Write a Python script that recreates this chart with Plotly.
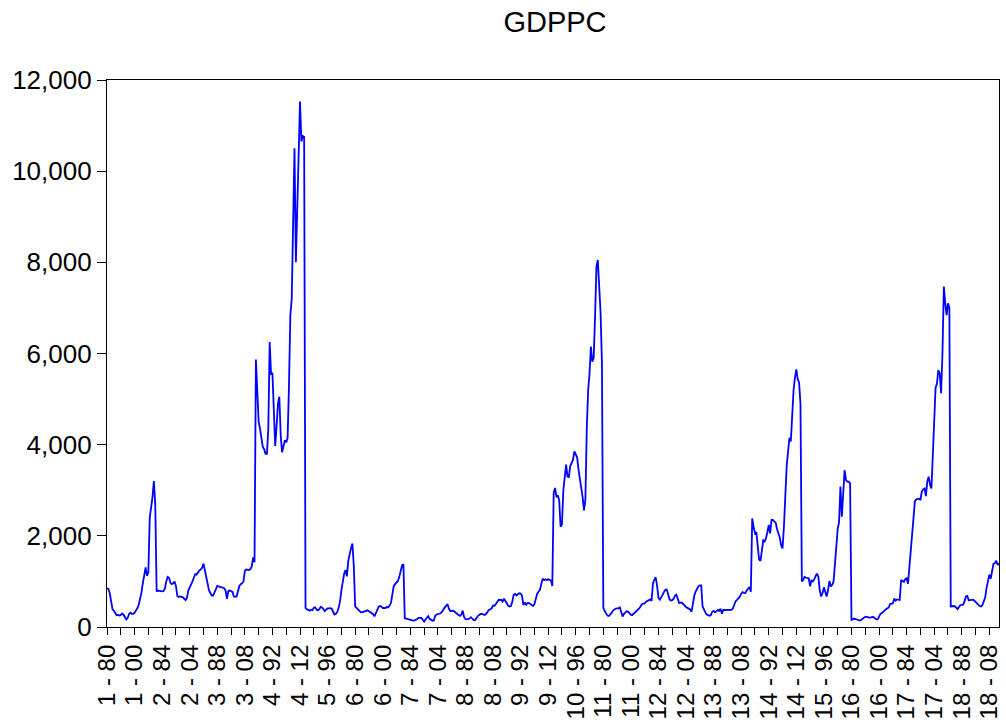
import plotly.graph_objects as go

# Panel layout: 18 cross-sections, annual observations 1980-2015
panel_ids = list(range(1, 19))
years = list(range(1980, 2016))

# GDP per capita by cross-section (1980 ... 2015)
gdppc_1 = [850, 840, 740, 510, 390, 355, 290, 260, 265, 250, 265, 295, 270, 210, 165, 200, 285, 315,
           290, 290, 310, 365, 410, 485, 600, 760, 960, 1120, 1310, 1120, 1200, 2400, 2600, 2850, 3200, 2700]
gdppc_2 = [780, 800, 790, 780, 780, 790, 840, 1000, 1100, 1080, 970, 940, 960, 1000, 900, 680, 660, 670,
           665, 650, 620, 590, 640, 800, 870, 920, 1000, 1080, 1160, 1150, 1200, 1240, 1265, 1300, 1390, 1260]
gdppc_3 = [1150, 950, 800, 730, 690, 690, 760, 870, 900, 890, 880, 860, 855, 850, 800, 620, 790, 800,
           790, 770, 670, 660, 670, 820, 900, 940, 960, 1000, 1230, 1260, 1250, 1250, 1270, 1330, 1530, 1420]
gdppc_4 = [5870, 5050, 4500, 4350, 4100, 3950, 3900, 3800, 3800, 4350, 6250, 5550, 5560, 4700, 3970, 4400,
           4900, 5050, 4200, 3830, 4000, 4100, 4050, 4150, 5300, 6850, 7200, 8900, 10500, 8000, 9100, 10300,
           11530, 10650, 10770, 10750]
gdppc_5 = [420, 390, 370, 360, 380, 370, 420, 430, 380, 365, 390, 440, 430, 400, 350, 380, 410, 410,
           415, 400, 340, 275, 290, 330, 420, 560, 800, 1040, 1170, 1250, 1110, 1450, 1610, 1730, 1830, 1350]
gdppc_6 = [450, 420, 375, 344, 325, 320, 330, 350, 365, 365, 345, 325, 305, 280, 235, 305, 390, 440,
           460, 450, 417, 417, 417, 440, 430, 470, 530, 720, 900, 940, 970, 1010, 1100, 1240, 1350, 1380]
gdppc_7 = [190, 185, 175, 168, 157, 145, 139, 145, 153, 175, 200, 200, 200, 160, 117, 165, 215, 240,
           180, 153, 140, 139, 240, 275, 285, 290, 300, 336, 395, 430, 465, 500, 400, 345, 355, 358]
gdppc_8 = [340, 300, 285, 265, 245, 270, 360, 220, 175, 168, 170, 185, 215, 170, 153, 153, 210, 240,
           265, 285, 285, 265, 263, 290, 340, 375, 390, 410, 470, 465, 500, 560, 592, 592, 600, 560]
gdppc_9 = [620, 570, 520, 465, 450, 460, 560, 705, 724, 690, 720, 739, 735, 690, 483, 540, 490, 525,
           530, 500, 483, 462, 500, 620, 725, 780, 812, 940, 1060, 1030, 1045, 1031, 1046, 1035, 1020, 900]
gdppc_10 = [2950, 3050, 2850, 2890, 2780, 2200, 2250, 3000, 3370, 3560, 3300, 3290, 3530, 3600, 3664, 3850,
            3800, 3722, 3450, 3250, 3120, 2850, 2560, 2800, 4350, 5200, 5560, 6150, 5820, 5900, 6800, 7900,
            8050, 7350, 6900, 5800]
gdppc_11 = [420, 350, 290, 250, 241, 265, 310, 360, 388, 405, 410, 410, 430, 350, 230, 290, 320, 345,
            340, 310, 265, 263, 290, 335, 365, 390, 410, 450, 500, 515, 520, 556, 570, 590, 605, 570]
gdppc_12 = [958, 1040, 1090, 900, 640, 600, 640, 705, 770, 815, 820, 720, 610, 580, 590, 620, 690, 710,
            600, 525, 534, 534, 505, 455, 435, 420, 400, 385, 336, 578, 690, 780, 845, 890, 915, 915]
gdppc_13 = [450, 360, 320, 275, 250, 245, 260, 335, 355, 325, 340, 375, 355, 400, 290, 373, 373, 373,
            385, 373, 385, 375, 410, 500, 565, 595, 625, 665, 730, 765, 750, 745, 800, 838, 875, 775]
gdppc_14 = [2380, 2200, 2055, 2080, 1750, 1480, 1450, 1700, 1900, 1880, 1950, 2080, 2240, 2055, 2347, 2347,
            2311, 2290, 2150, 2055, 1960, 1790, 1726, 2200, 3100, 3530, 3840, 4150, 4070, 4650, 5200, 5470,
            5650, 5440, 5360, 4900]
gdppc_15 = [1000, 1031, 1100, 1080, 1068, 1068, 890, 1030, 1000, 1045, 1120, 1170, 1100, 800, 670, 740,
            870, 780, 670, 810, 1010, 890, 925, 1000, 1350, 1850, 2150, 2300, 3080, 2420, 2900, 3440,
            3225, 3190, 3188, 3150]
gdppc_16 = [155, 168, 185, 175, 160, 150, 140, 154, 185, 215, 227, 220, 205, 205, 205, 220, 215, 195,
            168, 168, 250, 290, 308, 325, 360, 388, 405, 430, 505, 505, 518, 625, 578, 605, 592, 592]
gdppc_17 = [1031, 1000, 990, 1050, 1068, 950, 1300, 1750, 2160, 2500, 2760, 2800, 2810, 2815, 2786, 2969,
            3020, 3040, 2870, 3200, 3298, 3115, 3042, 3850, 4800, 5250, 5340, 5638, 5560, 5130, 6000, 7470,
            7100, 6840, 7100, 7000]
gdppc_18 = [450, 460, 460, 455, 420, 395, 440, 480, 483, 490, 560, 670, 680, 585, 590, 600, 600, 580,
            556, 525, 490, 460, 450, 480, 556, 650, 860, 1000, 1150, 1060, 1230, 1390, 1397, 1455, 1360, 1400]

panels = [gdppc_1, gdppc_2, gdppc_3, gdppc_4, gdppc_5, gdppc_6, gdppc_7, gdppc_8, gdppc_9,
          gdppc_10, gdppc_11, gdppc_12, gdppc_13, gdppc_14, gdppc_15, gdppc_16, gdppc_17, gdppc_18]

# Stacked panel observations labelled "id - yy"
obs_labels = []
values = []
for pid, series in zip(panel_ids, panels):
    for yr, v in zip(years, series):
        obs_labels.append(f"{pid} - {yr % 100:02d}")
        values.append(v)

# Ticks every 10 observations, labels every 20
tick_step = 10
tickvals = obs_labels[::tick_step]
ticktext = [lab if i % 2 == 0 else "" for i, lab in enumerate(tickvals)]

y_ticks = [0, 2000, 4000, 6000, 8000, 10000, 12000]

font_family = "Liberation Sans, Arial, sans-serif"

fig = go.Figure(
    go.Scatter(
        x=obs_labels,
        y=values,
        mode="lines",
        line=dict(color="#0000FF", width=1.8),
        hoverinfo="x+y",
    )
)

fig.update_layout(
    width=1006,
    height=726,
    margin=dict(l=107, r=4, t=80, b=99),
    paper_bgcolor="white",
    plot_bgcolor="white",
    showlegend=False,
    font=dict(family=font_family, color="black"),
    title=dict(
        text="GDPPC",
        font=dict(family=font_family, size=29, color="black"),
        x=555 / 1006,
        xanchor="center",
        y=1 - 22 / 726,
        yanchor="middle",
    ),
)

fig.update_xaxes(
    type="category",
    range=[0, len(obs_labels) - 1],
    tickmode="array",
    tickvals=tickvals,
    ticktext=ticktext,
    tickangle=-90,
    tickfont=dict(size=24, color="black"),
    ticks="outside",
    ticklen=7,
    tickwidth=1,
    tickcolor="black",
    showline=True,
    linecolor="black",
    linewidth=1.2,
    mirror=True,
    showgrid=False,
    zeroline=False,
)

fig.update_yaxes(
    range=[0, 12000],
    tickmode="array",
    tickvals=y_ticks,
    tickformat=",d",
    tickfont=dict(size=26, color="black"),
    ticks="outside",
    ticklen=9,
    tickwidth=1,
    tickcolor="black",
    showline=True,
    linecolor="black",
    linewidth=1.2,
    mirror=True,
    showgrid=False,
    zeroline=False,
)

fig.write_html("out.html")
